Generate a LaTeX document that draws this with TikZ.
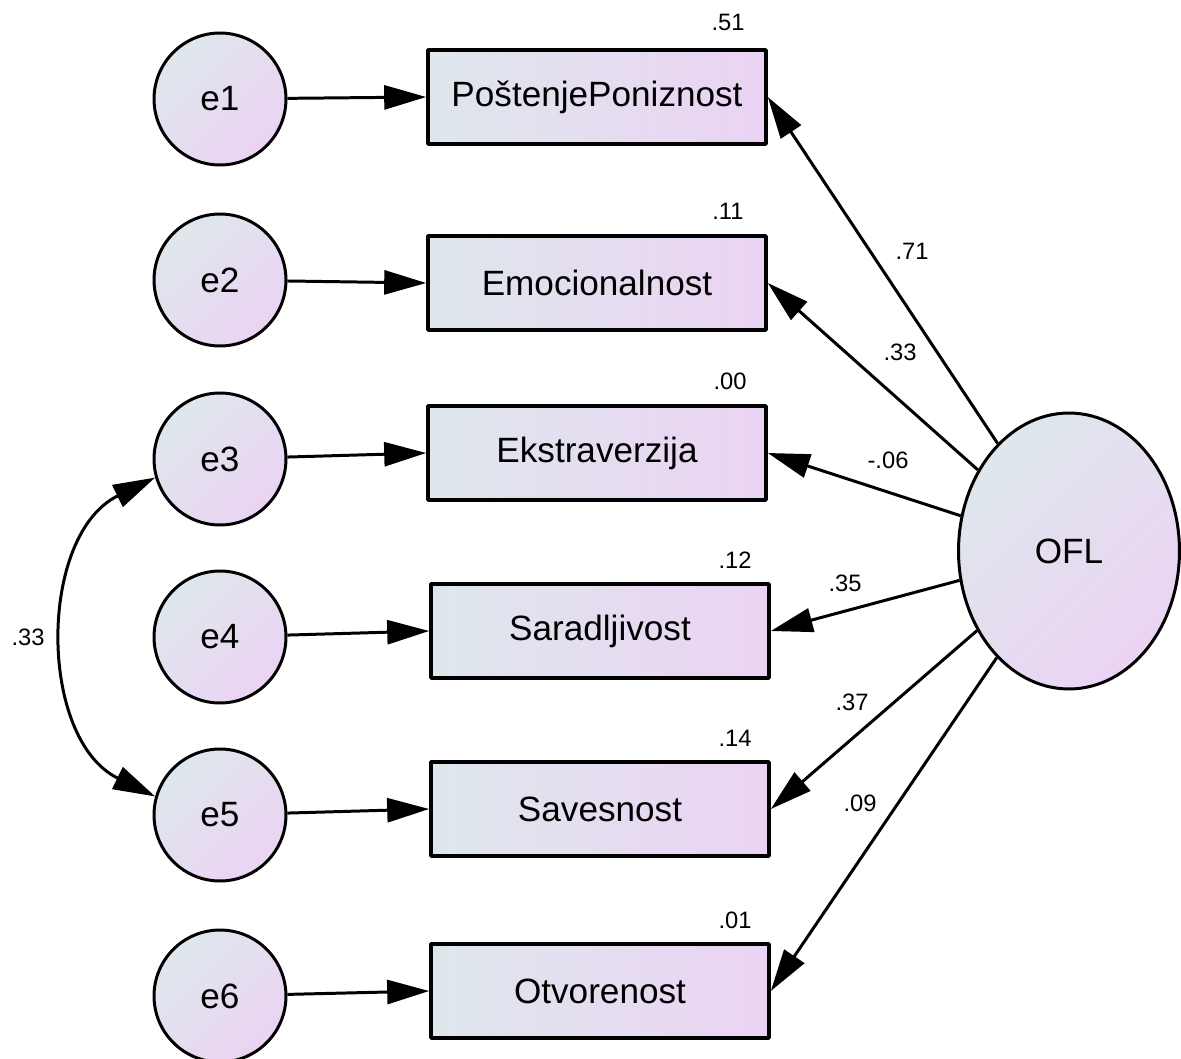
\documentclass[tikz,border=0pt]{standalone}
\usepackage{fontspec}
\setmainfont{Liberation Sans}
\usetikzlibrary{arrows.meta,shapes.geometric}
\definecolor{shadeA}{RGB}{222,231,236}
\definecolor{shadeB}{RGB}{235,211,243}
\begin{document}
\begin{tikzpicture}[x=0.02cm, y=-0.02cm, >={Triangle[length=0.84cm,width=0.48cm]}, line width=1.7pt, line join=round,
	obs/.style={draw, line width=2.1pt, minimum width=6.76cm, minimum height=1.88cm, inner sep=0pt, left color=shadeA, right color=shadeB, font=\fontsize{20}{24}\selectfont},
	err/.style={draw, circle, minimum size=2.64cm, inner sep=0pt, top color=shadeA, bottom color=shadeB, shading angle=45, font=\fontsize{20}{24}\selectfont},
	lat/.style={draw, ellipse, minimum width=4.42cm, minimum height=5.52cm, inner sep=0pt, top color=shadeA, bottom color=shadeB, shading angle=45, font=\fontsize{20}{24}\selectfont},
	coef/.style={inner sep=0pt, font=\fontsize{13.5}{16}\selectfont}]
	\useasboundingbox (0,0) rectangle (1181,1059);
	% observed variables
	\node[obs] (b1) at (597,97) {PoštenjePoniznost};
	\node[obs] (b2) at (597,283) {Emocionalnost};
	\node[obs] (b3) at (597,453) {Ekstraverzija};
	\node[obs] (b4) at (600,631) {Saradljivost};
	\node[obs] (b5) at (600,809) {Savesnost};
	\node[obs] (b6) at (600,991) {Otvorenost};
	% errors
	\foreach \i/\y in {1/99,2/280,3/459,4/637,5/815,6/996}
		\node[err] (e\i) at (220,\y) {e\i};
	\node[lat] (ofl) at (1069,551) {OFL};
	\foreach \i in {1,...,6} \draw[->] (e\i) -- (b\i.west);
	\foreach \i in {1,...,6} \draw[->] (ofl) -- (b\i.east);
	\draw[<->] (e3.196) to[out=206, in=154, looseness=1.05] (e5.164);
	% estimates
	\node[coef] (r1) at (728,22) {.51};
	\node[coef] (r2) at (728,211) {.11};
	\node[coef] (r3) at (730,381) {.00};
	\node[coef] (r4) at (735,560) {.12};
	\node[coef] (r5) at (735,738) {.14};
	\node[coef] (r6) at (735,920) {.01};
	\node[coef] (w1) at (912,251) {.71};
	\node[coef] (w2) at (900,352) {.33};
	\node[coef] (w3) at (888,460) {-.06};
	\node[coef] (w4) at (845,583) {.35};
	\node[coef] (w5) at (852,702) {.37};
	\node[coef] (w6) at (860,803) {.09};
	\node[coef] (cv) at (28,637) {.33};
\end{tikzpicture}
\end{document}
